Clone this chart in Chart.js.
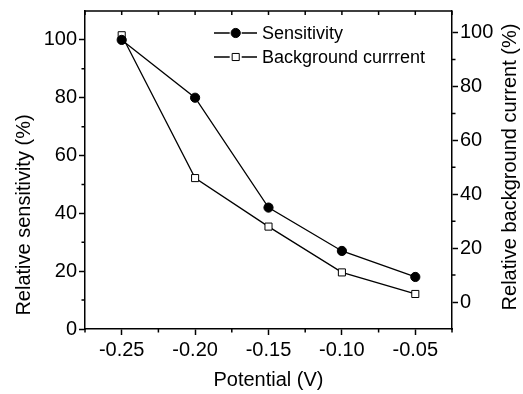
<!DOCTYPE html>
<html>
<head>
<meta charset="utf-8">
<script src="https://cdn.jsdelivr.net/npm/chart.js@4.4.1/dist/chart.umd.min.js"></script>
<style>
  html, body { margin: 0; padding: 0; background: #fff; }
</style>
</head>
<body>
<canvas id="myChart" width="523" height="394"></canvas>
<script>
// values
const potentials = [-0.25, -0.20, -0.15, -0.10, -0.05];
const sensitivity = [100, 80, 42, 27, 18];
const background = [99, 46, 28, 11, 3];

const xTicks = [-0.25, -0.20, -0.15, -0.10, -0.05];
const xMinor = [-0.275, -0.225, -0.175, -0.125, -0.075, -0.025];
const leftTicks = [0, 20, 40, 60, 80, 100];
const leftMinor = [10, 30, 50, 70, 90];
const rightTicks = [0, 20, 40, 60, 80, 100];
const rightMinor = [10, 30, 50, 70, 90];

const FONT = "'Liberation Sans', Arial, sans-serif";

const sensStyle = { pointStyle: 'circle', radius: 4.6, fill: '#000' };
const bgStyle = { pointStyle: 'rect', radius: 5, fill: '#fff' };

// Origin style frame: top border, minor ticks, y titles and the legend
const frame = {
  id: 'frame',
  afterDraw(chart) {
    const ctx = chart.ctx;
    const a = chart.chartArea;
    const x = chart.scales.x, yl = chart.scales.y, yr = chart.scales.y1;
    ctx.save();
    ctx.strokeStyle = '#000';
    ctx.lineWidth = 1.5;
    ctx.beginPath();
    ctx.moveTo(a.left, a.top);
    ctx.lineTo(a.right, a.top);
    xTicks.concat(xMinor).forEach(v => {
      const px = x.getPixelForValue(v);
      ctx.moveTo(px, a.top);
      ctx.lineTo(px, a.top + 4);
    });
    xMinor.forEach(v => {
      const px = x.getPixelForValue(v);
      ctx.moveTo(px, a.bottom);
      ctx.lineTo(px, a.bottom + 3.5);
    });
    leftMinor.forEach(v => {
      const py = yl.getPixelForValue(v);
      ctx.moveTo(a.left, py);
      ctx.lineTo(a.left - 3.5, py);
    });
    rightMinor.forEach(v => {
      const py = yr.getPixelForValue(v);
      ctx.moveTo(a.right, py);
      ctx.lineTo(a.right + 3.5, py);
    });
    ctx.stroke();

    // y axis titles, both read bottom to top
    ctx.fillStyle = '#000';
    ctx.font = '20px ' + FONT;
    ctx.textAlign = 'center';
    ctx.textBaseline = 'middle';
    ctx.save();
    ctx.translate(24, 215);
    ctx.rotate(-Math.PI / 2);
    ctx.fillText('Relative sensitivity (%)', 0, 0);
    ctx.restore();
    ctx.save();
    ctx.translate(510, 167);
    ctx.rotate(-Math.PI / 2);
    ctx.fillText('Relative background current (%)', 0, 0);
    ctx.restore();

    // legend
    const rows = [
      { label: 'Sensitivity', st: sensStyle, y: a.top + 22 },
      { label: 'Background currrent', st: bgStyle, y: a.top + 46 }
    ];
    ctx.font = '18px ' + FONT;
    ctx.textAlign = 'left';
    rows.forEach(r => {
      const x0 = a.left + 129, xm = a.left + 150.7, x1 = a.left + 172;
      ctx.lineWidth = 1.3;
      ctx.beginPath();
      ctx.moveTo(x0, r.y); ctx.lineTo(xm - 6, r.y);
      ctx.moveTo(xm + 6, r.y); ctx.lineTo(x1, r.y);
      ctx.stroke();
      ctx.fillStyle = r.st.fill;
      ctx.lineWidth = 1;
      Chart.helpers.drawPoint(ctx, { pointStyle: r.st.pointStyle, radius: r.st.radius, rotation: 0, borderWidth: 1 }, xm, r.y);
      ctx.fillStyle = '#000';
      ctx.fillText(r.label, a.left + 177, r.y + 1);
    });
    ctx.restore();
  }
};

const tickFont = { family: FONT, size: 20 };

new Chart('myChart', {
  type: 'line',
  data: {
    datasets: [{
      label: 'Sensitivity',
      data: potentials.map((p, i) => ({ x: p, y: sensitivity[i] })),
      yAxisID: 'y',
      borderColor: '#000',
      borderWidth: 1.3,
      pointStyle: sensStyle.pointStyle,
      pointRadius: sensStyle.radius,
      pointBackgroundColor: sensStyle.fill,
      pointBorderColor: '#000',
      pointBorderWidth: 1,
      tension: 0
    }, {
      label: 'Background currrent',
      data: potentials.map((p, i) => ({ x: p, y: background[i] })),
      yAxisID: 'y1',
      borderColor: '#000',
      borderWidth: 1.3,
      pointStyle: bgStyle.pointStyle,
      pointRadius: bgStyle.radius,
      pointBackgroundColor: bgStyle.fill,
      pointBorderColor: '#000',
      pointBorderWidth: 1,
      tension: 0
    }]
  },
  options: {
    responsive: false,
    animation: false,
    layout: { padding: { top: 11, left: 0, right: 0, bottom: 0 } },
    plugins: { legend: { display: false }, tooltip: { enabled: false } },
    scales: {
      x: {
        type: 'linear',
        position: 'bottom',
        min: -0.275,
        max: -0.025,
        afterBuildTicks: s => { s.ticks = xTicks.map(v => ({ value: v })); },
        afterFit: s => { s.height = 65; s.paddingLeft = 0; s.paddingRight = 0; },
        ticks: {
          color: '#000', font: tickFont, padding: 3, maxRotation: 0,
          callback: v => v.toFixed(2)
        },
        grid: { drawOnChartArea: false, tickLength: 6, tickColor: '#000', tickWidth: 1.5 },
        border: { color: '#000', width: 1.5 },
        title: {
          display: true, text: 'Potential (V)', color: '#000',
          font: { family: FONT, size: 20 }, padding: { top: 0, bottom: 2 }
        }
      },
      y: {
        type: 'linear',
        position: 'left',
        min: 0,
        max: 110,
        afterBuildTicks: s => { s.ticks = leftTicks.map(v => ({ value: v })); },
        afterFit: s => { s.width = 85; s.paddingTop = 0; s.paddingBottom = 0; },
        ticks: { color: '#000', font: tickFont, padding: 2 },
        grid: { drawOnChartArea: false, tickLength: 6, tickColor: '#000', tickWidth: 1.5 },
        border: { color: '#000', width: 1.5 }
      },
      y1: {
        type: 'linear',
        position: 'right',
        min: -10,
        max: 108,
        afterBuildTicks: s => { s.ticks = rightTicks.map(v => ({ value: v })); },
        afterFit: s => { s.width = 71; s.paddingTop = 0; s.paddingBottom = 0; },
        ticks: { color: '#000', font: tickFont, padding: 2 },
        grid: { drawOnChartArea: false, tickLength: 6, tickColor: '#000', tickWidth: 1.5 },
        border: { color: '#000', width: 1.5 }
      }
    }
  },
  plugins: [frame]
});
</script>
</body>
</html>
